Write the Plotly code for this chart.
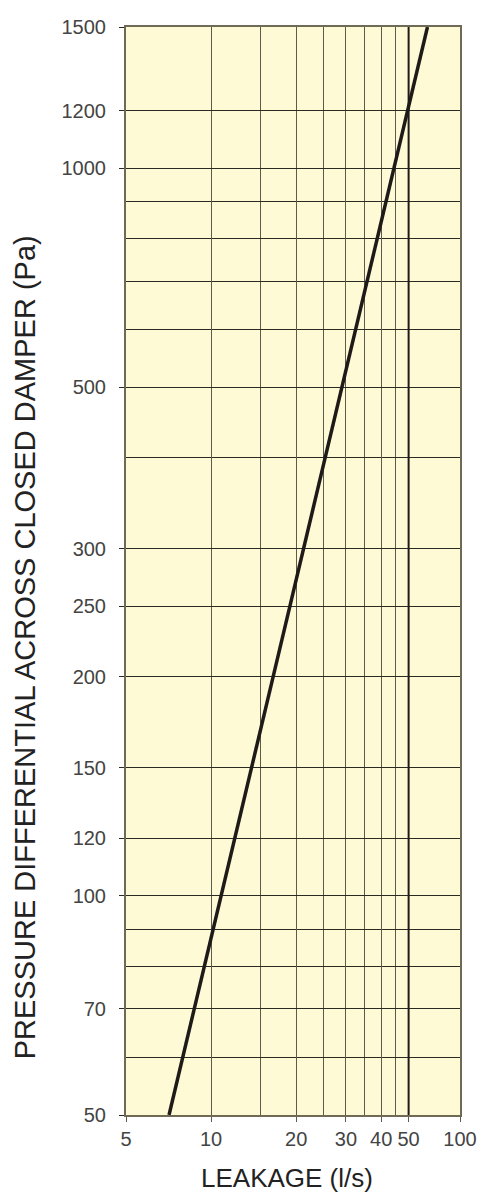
import numpy as np
import plotly.graph_objects as go

# leakage line (l/s vs Pa)
leakage = [7.1, 20, 50, 58.3]
pressure = [50, 272, 1220, 1564]

# axis extents as drawn (frame edges are labelled 100 and 1500 in the original)
x_range = [5, 76]
y_range = [50, 1564]

x_tick_vals = [5, 10, 20, 30, 40, 50, 76]
x_tick_text = ["5", "10", "20", "30", "40", "50", "100"]
x_minor_grid = [15, 25, 35, 45]

y_tick_vals = [50, 70, 100, 120, 150, 200, 250, 300, 500, 1000, 1200, 1564]
y_tick_text = ["50", "70", "100", "120", "150", "200", "250", "300", "500", "1000", "1200", "1500"]
y_minor_grid = [60, 80, 90, 400, 600, 700, 800, 900]

heavy_x = 50

BG = "#FFFAD6"
VGRID = "#5E5B4A"
HGRID = "#2A2A22"
FRAME = "#6E6A55"
FONT = "Liberation Sans, Arial, Helvetica, sans-serif"
EPS = 1e-6


def log_range(r):
    return [np.log10(r[0]) - EPS, np.log10(r[1]) + EPS]


fig = go.Figure()
fig.add_trace(go.Scatter(
    x=leakage, y=pressure, mode="lines",
    line=dict(color="#1E1A18", width=3.5),
    showlegend=False, hoverinfo="x+y",
))
fig.add_vline(x=heavy_x, line_color="#1E1A18", line_width=2)

fig.update_xaxes(
    type="log", range=log_range(x_range),
    tickmode="array", tickvals=x_tick_vals, ticktext=x_tick_text,
    ticks="outside", ticklen=5, tickcolor=VGRID, tickwidth=1.3,
    showgrid=True, gridcolor=VGRID, gridwidth=1.3,
    minor=dict(tickmode="array", tickvals=x_minor_grid, showgrid=True,
               gridcolor=VGRID, gridwidth=1.3, ticks=""),
    showline=True, linecolor=FRAME, linewidth=2, mirror=True,
    zeroline=False, ticklabelstandoff=0, ticklabeloverflow="allow",
    tickfont=dict(size=20, color="#444", family=FONT),
)
fig.update_yaxes(
    type="log", range=log_range(y_range),
    tickmode="array", tickvals=y_tick_vals, ticktext=y_tick_text,
    ticks="outside", ticklen=5, tickcolor=HGRID, tickwidth=1.3,
    showgrid=True, gridcolor=HGRID, gridwidth=1.3,
    minor=dict(tickmode="array", tickvals=y_minor_grid, showgrid=True,
               gridcolor=HGRID, gridwidth=1.3, ticks=""),
    showline=True, linecolor=FRAME, linewidth=2, mirror=True,
    zeroline=False, ticklabelstandoff=9, ticklabeloverflow="allow",
    tickfont=dict(size=20, color="#444", family=FONT),
)

fig.add_annotation(
    text="PRESSURE DIFFERENTIAL ACROSS CLOSED DAMPER (Pa)",
    xref="paper", yref="paper", x=-0.302, y=0.43, xanchor="center", yanchor="middle",
    textangle=-90, showarrow=False,
    font=dict(size=29, color="#222", family=FONT),
)
fig.add_annotation(
    text="LEAKAGE (l/s)",
    xref="paper", yref="paper", x=0.482, y=-0.058, xanchor="center", yanchor="middle",
    showarrow=False,
    font=dict(size=26, color="#222", family=FONT),
)

# page body adds an 8px margin, so the figure is sized to fit the 490x1197 window
fig.update_layout(
    width=482, height=1189,
    margin=dict(l=118, r=30, t=8, b=82),
    plot_bgcolor=BG, paper_bgcolor="white",
    showlegend=False,
)

fig.write_html("out.html")
